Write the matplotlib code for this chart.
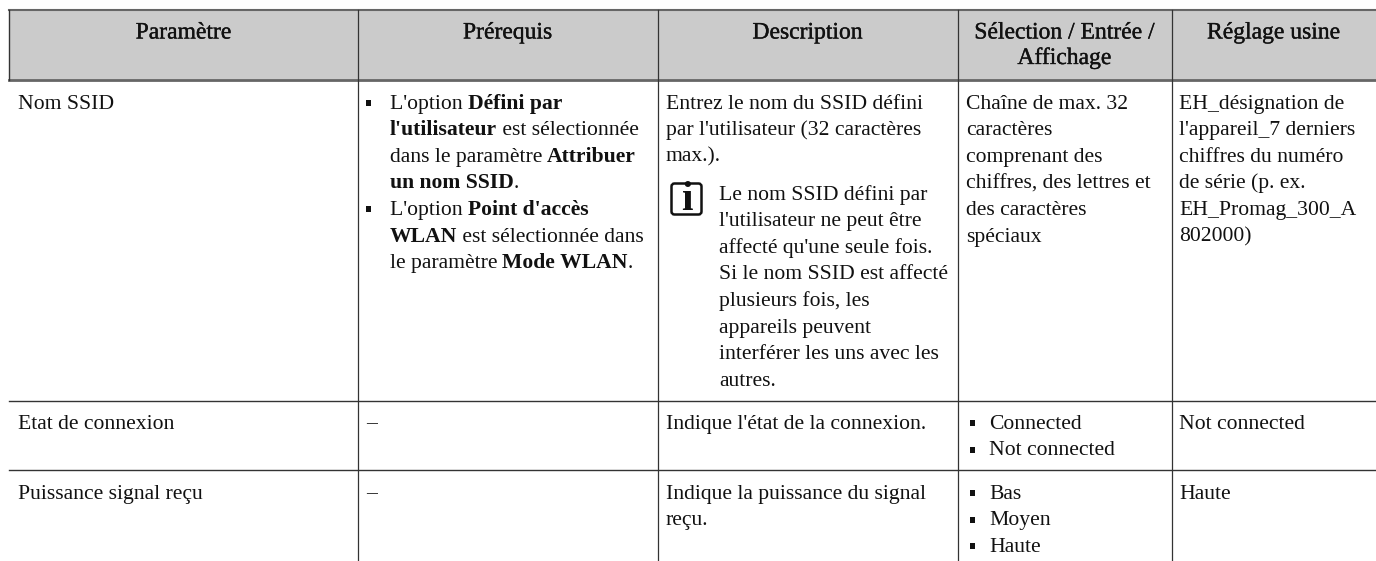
#!/usr/bin/env python3
"""Table of WLAN parameters, drawn as text and rules."""
import matplotlib
matplotlib.use("Agg")
import matplotlib.pyplot as plt
import matplotlib.patheffects as pe
from matplotlib.patches import FancyBboxPatch, Rectangle

FONT = "Liberation Serif"
SIZE = 15.6
HEAD_SIZE = 17

col_edges = [9, 358, 657.5, 957.5, 1171.5]
row_edges = [10, 80, 400.5, 470]
col_text = [17.5, 389.5, 666, 966, 1179]

header_lines = [["Paramètre"], ["Prérequis"], ["Description"],
                ["Sélection / Entrée /", "Affichage"], ["Réglage usine"]]

names = ["Nom SSID", "Etat de connexion", "Puissance signal reçu"]

prereq_ssid = [
    (True, [("L'option ", False), ("Défini par", True)]),
    (False, [("l'utilisateur", True), (" est sélectionnée", False)]),
    (False, [("dans le paramètre ", False), ("Attribuer", True)]),
    (False, [("un nom SSID", True), (".", False)]),
    (True, [("L'option ", False), ("Point d'accès", True)]),
    (False, [("WLAN", True), (" est sélectionnée dans", False)]),
    (False, [("le paramètre ", False), ("Mode WLAN", True), (".", False)]),
]
desc_ssid = ["Entrez le nom du SSID défini", "par l'utilisateur (32 caractères", "max.)."]
note_ssid = ["Le nom SSID défini par", "l'utilisateur ne peut être", "affecté qu'une seule fois.",
             "Si le nom SSID est affecté", "plusieurs fois, les", "appareils peuvent",
             "interférer les uns avec les", "autres."]
select_ssid = ["Chaîne de max. 32", "caractères", "comprenant des",
               "chiffres, des lettres et", "des caractères", "spéciaux"]
factory_ssid = ["EH_désignation de", "l'appareil_7 derniers", "chiffres du numéro",
                "de série (p. ex.", "EH_Promag_300_A", "802000)"]
desc_state = ["Indique l'état de la connexion."]
select_state = ["Connected", "Not connected"]
factory_state = ["Not connected"]
desc_power = ["Indique la puissance du signal", "reçu."]
select_power = ["Bas", "Moyen", "Haute"]
factory_power = ["Haute"]

LINE = 26.6
BASE = [108.5, 428.5, 498.5]
HEAD_BASE = 38.5
HEAD_LINE = 25.5


def put(ax, x, y, s, size=SIZE, **kw):
    return ax.text(x, y, s, family=FONT, fontsize=size, color="#111111", va="baseline", **kw)


def column(ax, x, y, lines):
    for i, s in enumerate(lines):
        put(ax, x, y + i * LINE, s)


def bullets(ax, x, y, lines):
    for i, s in enumerate(lines):
        bullet(ax, y + i * LINE, x)
        put(ax, x + 17, y + i * LINE, s)


def bullet(ax, y, x):
    ax.add_patch(Rectangle((x - 2.5, y - 8.5), 5, 6, color="#111111", lw=0))


def main():
    fig = plt.figure(figsize=(13.76, 5.61), dpi=100)
    ax = fig.add_axes([0, 0, 1, 1])
    ax.set_xlim(0, 1376)
    ax.set_ylim(561, 0)
    ax.axis("off")

    ax.add_patch(Rectangle((col_edges[0], row_edges[0]), 1376 - col_edges[0],
                           row_edges[1] - row_edges[0], color="#cbcbcb", lw=0))
    ax.plot([col_edges[0], 1376], [row_edges[0]] * 2, color="#666666", lw=1.5)
    ax.plot([col_edges[0], 1376], [row_edges[1]] * 2, color="#666666", lw=2.0)
    for y in row_edges[2:]:
        ax.plot([col_edges[0], 1376], [y, y], color="#333333", lw=1.0)
    ax.plot([col_edges[0]] * 2, [row_edges[0], row_edges[1]], color="#333333", lw=1.0)
    for x in col_edges[1:]:
        ax.plot([x, x], [row_edges[0], 561], color="#333333", lw=0.9)

    rights = col_edges[1:] + [1376]
    for left, right, lines in zip(col_edges, rights, header_lines):
        for i, s in enumerate(lines):
            t = put(ax, (left + right) / 2, HEAD_BASE + i * HEAD_LINE, s,
                    size=HEAD_SIZE, ha="center")
            t.set_path_effects([pe.withStroke(linewidth=0.25, foreground="#111111")])

    for name, y in zip(names, BASE):
        put(ax, col_text[0], y, name)

    # mixed regular and bold runs
    renderer = fig.canvas.get_renderer()
    for i, (dot, runs) in enumerate(prereq_ssid):
        y = BASE[0] + i * LINE
        if dot:
            bullet(ax, y, col_text[1] - 21)
        x = col_text[1]
        for s, bold in runs:
            t = put(ax, x, y, s, fontweight="bold" if bold else "normal")
            t.set_text(s.replace(" ", "\u00a0"))
            x = ax.transData.inverted().transform(
                (t.get_window_extent(renderer).x1, 0))[0]
    put(ax, col_text[1] - 23, BASE[1], "–")
    put(ax, col_text[1] - 23, BASE[2], "–")

    column(ax, col_text[2], BASE[0], desc_ssid)
    column(ax, 719, 199.5, note_ssid)
    column(ax, col_text[3], BASE[0], select_ssid)
    column(ax, col_text[4], BASE[0], factory_ssid)
    column(ax, col_text[2], BASE[1], desc_state)
    bullets(ax, 972, BASE[1], select_state)
    column(ax, col_text[4], BASE[1], factory_state)
    column(ax, col_text[2], BASE[2], desc_power)
    bullets(ax, 972, BASE[2], select_power)
    column(ax, col_text[4], BASE[2], factory_power)

    # info icon
    ax.add_patch(FancyBboxPatch((671.5, 183.5), 30, 31, boxstyle="round,pad=0,rounding_size=3",
                                fc="white", ec="#111111", lw=1.8))
    ax.text(686.5, 210, "i", family=FONT, fontsize=30, fontweight="bold",
            ha="center", va="baseline", color="#111111")

    fig.savefig("out.png", dpi=100)
    plt.close(fig)


if __name__ == "__main__":
    main()
